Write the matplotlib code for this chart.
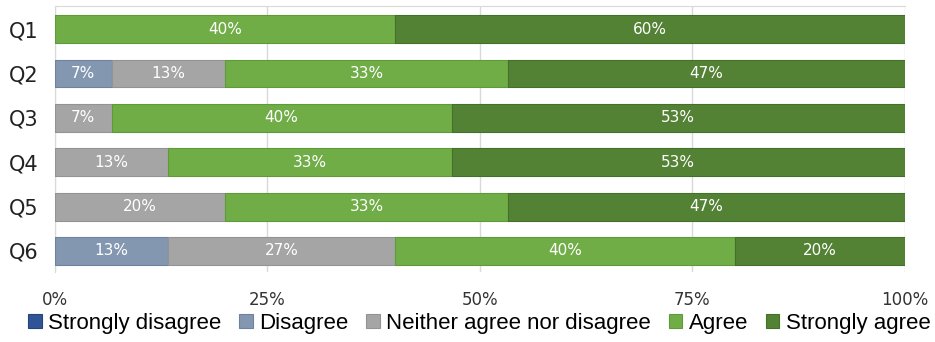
import numpy as np
import matplotlib.pyplot as plt

questions = ["Q1", "Q2", "Q3", "Q4", "Q5", "Q6"]
categories = ["Strongly disagree", "Disagree", "Neither agree nor disagree", "Agree", "Strongly agree"]
colors = ["#2F5597", "#8497B0", "#A5A5A5", "#70AD47", "#548235"]
edges = ["#254478", "#6F83A0", "#939393", "#5E9A38", "#43702A"]

# percent of respondents per answer (15 respondents)
strongly_disagree = [0, 0, 0, 0, 0, 0]
disagree = [0, 6.67, 0, 0, 0, 13.33]
neither = [0, 13.33, 6.67, 13.33, 20.0, 26.67]
agree = [40.0, 33.33, 40.0, 33.33, 33.33, 40.0]
strongly_agree = [60.0, 46.67, 53.33, 53.33, 46.67, 20.0]
series = [strongly_disagree, disagree, neither, agree, strongly_agree]

fig = plt.figure(figsize=(9.35, 3.42), dpi=100)
ax = fig.add_axes([0.0588, 0.205, 0.909, 0.777])

y = np.arange(len(questions))
left = np.zeros(len(questions))
for name, vals, c, ec in zip(categories, series, colors, edges):
    vals = np.array(vals)
    ax.barh(y, vals, left=left, height=0.63, color=c, edgecolor=ec, linewidth=0.8, label=name, zorder=3)
    for yi, l, v in zip(y, left, vals):
        if v > 0:
            ax.text(l + v / 2, yi, "%d%%" % round(v), ha="center", va="center",
                    color="white", fontsize=11, family="DejaVu Sans", zorder=4)
    left = left + vals

ax.set_xlim(0, 100)
ax.set_ylim(5.473, -0.518)
ax.set_xticks([0, 25, 50, 75, 100])
ax.set_xticklabels(["0%", "25%", "50%", "75%", "100%"], fontsize=12, color="#333333")
ax.set_yticks(y)
ax.set_yticklabels(questions, fontsize=15, color="#222222")
ax.tick_params(length=0)
ax.tick_params(axis="x", pad=14)
ax.tick_params(axis="y", pad=12)
ax.grid(axis="x", color="#D9D9D9", linewidth=1.0, zorder=0)
for s in ["right", "bottom"]:
    ax.spines[s].set_visible(False)
ax.spines["left"].set_color("#D9D9D9")
ax.spines["top"].set_color("#D9D9D9")

fig.legend(loc="center", bbox_to_anchor=(0.513, 0.055), ncol=5, frameon=False,
           prop={"family": "Liberation Sans", "size": 16}, handlelength=0.6, handleheight=0.6,
           handletextpad=0.3, columnspacing=0.8, borderaxespad=0)

fig.savefig("out.png", dpi=100)
